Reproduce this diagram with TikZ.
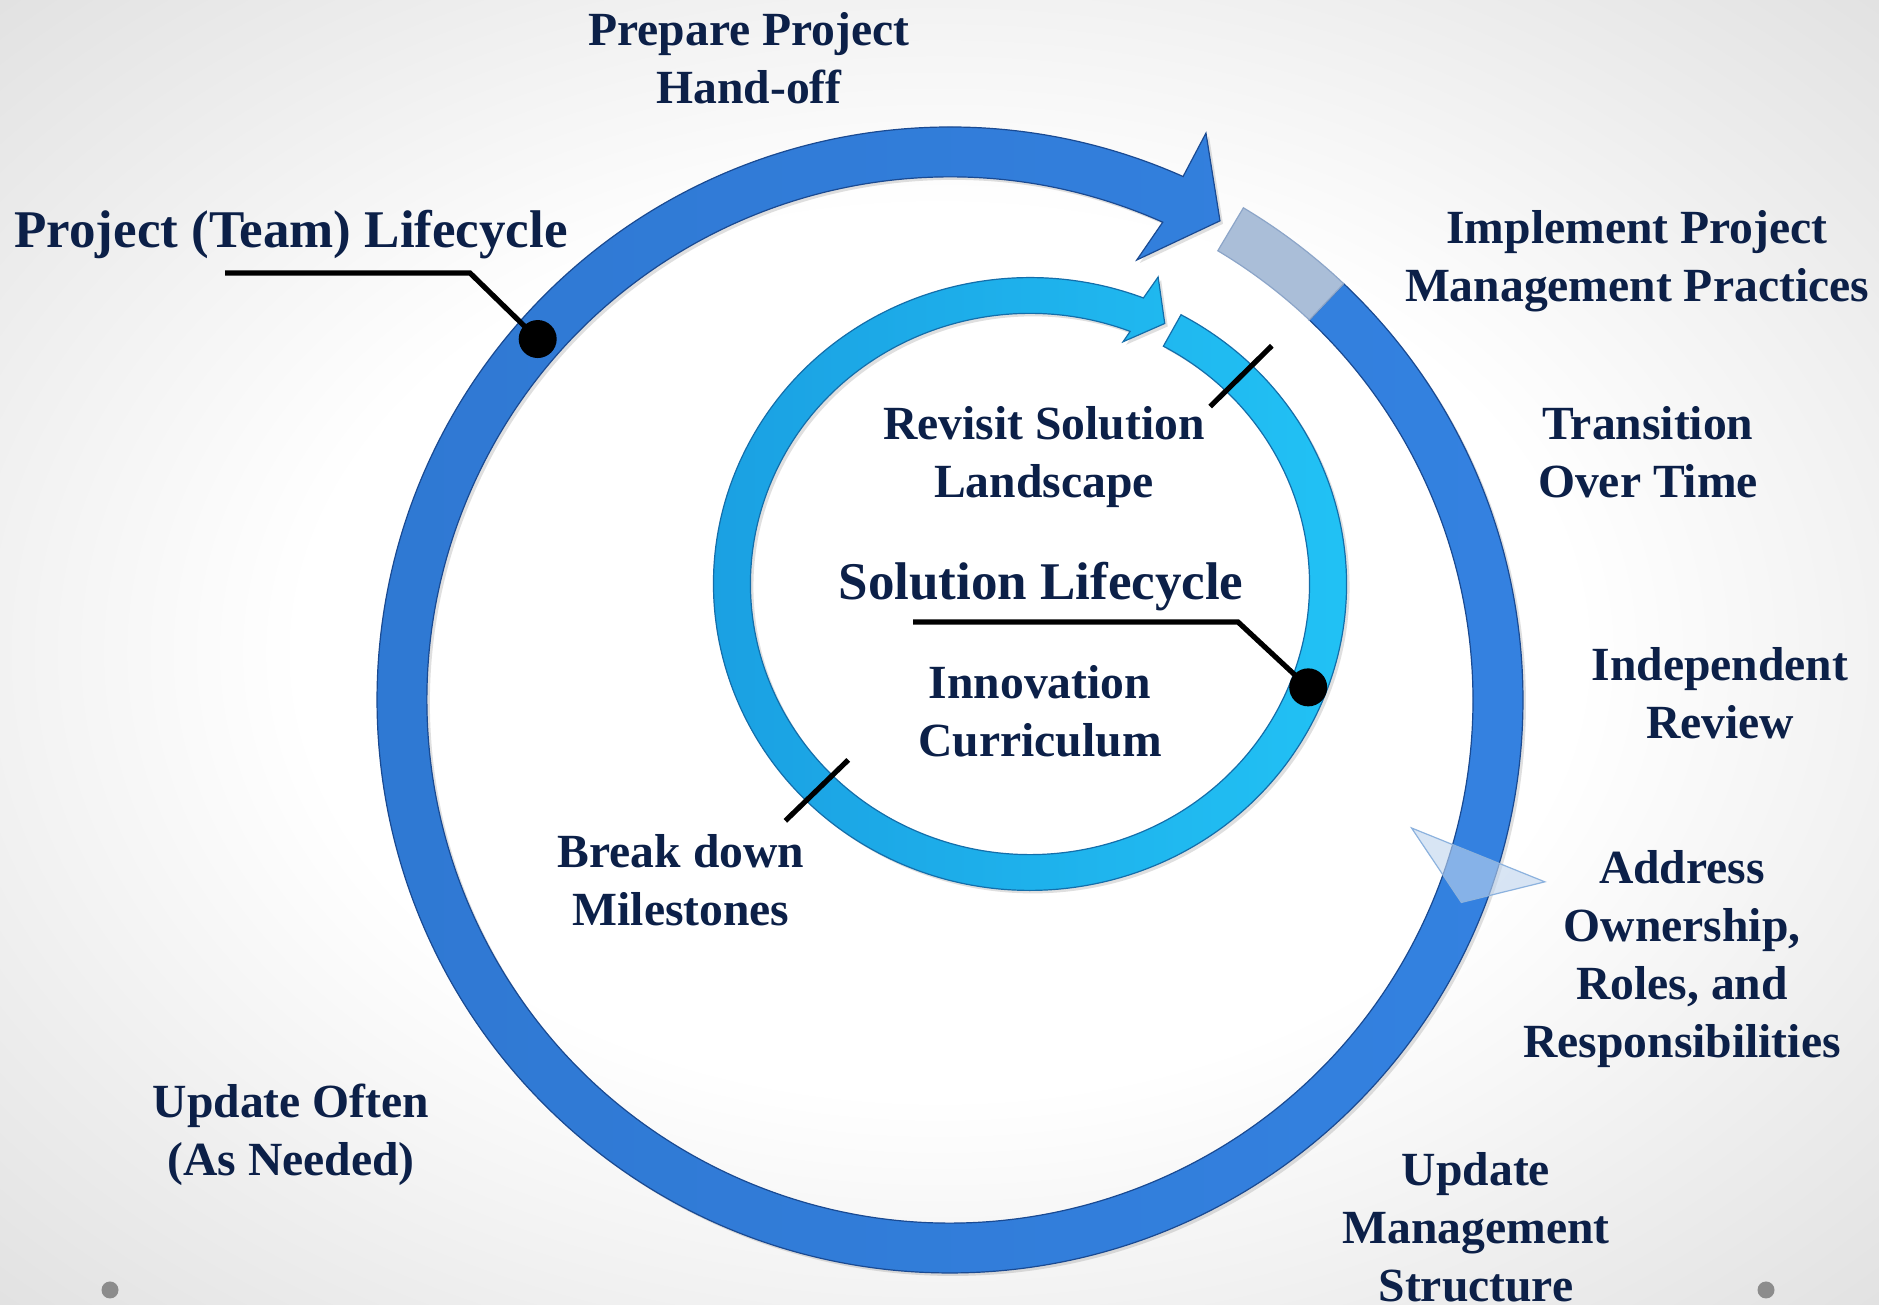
\documentclass[tikz,border=0pt]{standalone}
\usepackage{fontspec}
\setmainfont{Liberation Serif}
\usetikzlibrary{calc, shadows}
\definecolor{navy}{RGB}{12,32,72}
\definecolor{teamblue}{RGB}{47,120,210}
\definecolor{teambluelight}{RGB}{52,130,225}
\definecolor{teamedge}{RGB}{26,74,146}
\definecolor{solcyan}{RGB}{26,158,225}
\definecolor{solcyanlight}{RGB}{34,196,246}
\definecolor{soledge}{RGB}{20,110,170}
\definecolor{paleband}{RGB}{170,190,216}
\definecolor{paleedge}{RGB}{140,165,200}
\definecolor{ghostfill}{RGB}{190,212,238}
\definecolor{ghostedge}{RGB}{140,178,222}
\pgfdeclareradialshading{vignette}{\pgfpoint{0bp}{0bp}}{%
  color(0bp)=(white); color(17bp)=(white); color(28bp)=(black!7);
  color(38bp)=(black!13); color(50bp)=(black!16)}
\tikzset{
  txt/.style={
    align=center, inner sep=0pt, text=navy,
    font=\fontsize{23.8}{29}\selectfont\bfseries
  },
  bigtxt/.style={
    txt, font=\fontsize{26.5}{31}\selectfont\bfseries
  },
  outerband/.style={
    left color=teamblue, right color=teambluelight, draw=teamedge, line width=0.6pt,
    drop shadow={opacity=0.25, shadow xshift=1.5pt, shadow yshift=-1.5pt}
  },
  innerband/.style={
    left color=solcyan, right color=solcyanlight, draw=soledge, line width=0.6pt,
    drop shadow={opacity=0.25, shadow xshift=1.5pt, shadow yshift=-1.5pt}
  },
  fadedband/.style={
    fill=paleband, draw=paleedge, line width=0.6pt
  },
  ghosthead/.style={
    fill=ghostfill, fill opacity=0.6, draw=ghostedge, line width=0.6pt
  },
  leadline/.style={
    line width=2.6pt, black
  },
  blackdot/.style={
    circle, fill=black, minimum size=19pt, inner sep=0pt
  }
}
\begin{document}
\begin{tikzpicture}[x=0.5pt, y=0.5pt]
  \useasboundingbox (0,0) rectangle (1879,1305);
  \shade[shading=vignette] (0,0) rectangle (1879,1305);
  \fill[black!45] (110,15) circle[radius=8.5] (1766,15) circle[radius=8.5];

  \coordinate (outerc) at (950,605);
  \coordinate (innerc) at (1030,721);

  % project lifecycle ring
  \path[outerband] ($(outerc)+(46.6:573)$) arc[start angle=46.6, end angle=-294, radius=573]
    -- ($(outerc)+(65.7:622)$) -- ($(outerc)+(60.6:550)$) -- ($(outerc)+(67:478)$)
    -- ($(outerc)+(66:523)$) arc[start angle=-294, end angle=46.6, radius=523] -- cycle;
  \path[fadedband] ($(outerc)+(59.2:573)$) arc[start angle=59.2, end angle=46.6, radius=573]
    -- ($(outerc)+(46.6:523)$) arc[start angle=46.6, end angle=59.2, radius=523] -- cycle;
  \path[ghosthead] ($(outerc)+(-15.5:479)$) -- ($(outerc)+(-17:622)$) -- ($(outerc)+(-21.6:550)$) -- cycle;

  % solution lifecycle ring, a little flatter than round
  \begin{scope}[shift={(innerc)}, yscale=0.968]
    \path[innerband] (61.5:316.5) arc[start angle=61.5, end angle=-291, radius=316.5]
      -- (68:342) -- (63.4:301) -- (69.6:267)
      -- (69:279.5) arc[start angle=-291, end angle=61.5, radius=279.5] -- cycle;
    \coordinate (revisitin) at (45.5:257);
    \coordinate (revisitout) at (45.5:345);
    \coordinate (breakin) at (225:257);
    \coordinate (breakout) at (225:346);
    \coordinate (solmark) at (-21:298);
  \end{scope}

  % tick marks on the inner ring
  \draw[leadline] (revisitin) -- (revisitout);
  \draw[leadline] (breakin) -- (breakout);

  % labels
  \node[txt] (prepare) at (749,1247) {Prepare Project\\Hand-off};
  \node[bigtxt, anchor=west] (team) at (14,1070) {Project (Team) Lifecycle};
  \node[txt] (implement) at (1637,1044) {Implement Project\\Management Practices};
  \node[txt] (transition) at (1648,853) {Transition\\Over Time};
  \node[txt] (review) at (1720,612) {Independent\\Review};
  \node[txt] (ownership) at (1682,346) {Address\\Ownership,\\Roles, and\\Responsibilities};
  \node[txt] (structure) at (1476,78) {Update\\Management\\Structure};
  \node[txt] (often) at (291,170) {Update Often\\(As Needed)};
  \node[txt] (revisit) at (1044,848) {Revisit Solution\\Landscape};
  \node[bigtxt] (solution) at (1041,718) {Solution Lifecycle};
  \node[txt] (innovation) at (1040,594) {Innovation\\Curriculum};
  \node[txt] (milestones) at (681,425) {Break down\\Milestones};

  % leaders to the rings
  \node[blackdot] (teamdot) at ($(outerc)+(138.8:548)$) {};
  \node[blackdot] (soldot) at (solmark) {};
  \coordinate (teamstart) at (225,1032);
  \coordinate (teambend) at (470,1032);
  \coordinate (solstart) at (913,683);
  \coordinate (solbend) at (1238,683);
  \draw[leadline] (teamstart) -- (teambend) -- (teamdot.center);
  \draw[leadline] (solstart) -- (solbend) -- (soldot.center);
\end{tikzpicture}
\end{document}
